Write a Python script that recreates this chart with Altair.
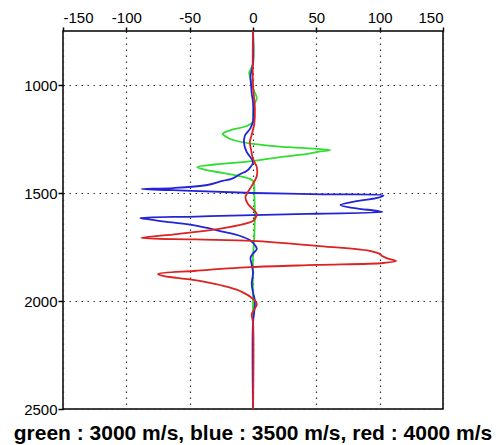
import altair as alt
import pandas as pd

# ---- data ----
x_ticks = [-150, -100, -50, 0, 50, 100, 150]
y_ticks = [1000, 1500, 2000, 2500]

series_names = ["green", "blue", "red"]
series_colors = ["#30dd30", "#2323d8", "#dd2222"]
title_text = "green : 3000 m/s, blue : 3500 m/s, red : 4000 m/s"

green_depth = [750, 900, 930, 944, 970, 1000, 1030, 1060, 1090, 1130, 1171, 1190,
               1210, 1227, 1240, 1250, 1273, 1288, 1301, 1308, 1319, 1335, 1352,
               1368, 1380, 1392, 1407, 1425, 1444, 1470, 1500, 1600, 1700, 1800,
               2000, 2500]
green_value = [0, 0, -2, -3, -2, -1, 1, 3, 1, 0, 0, -5,
               -18, -24, -21, -18, 0, 28, 61, 52, 43, 20, 0,
               -30, -44, -38, -24, -8, 0, 1, 1, 1.5, 1, 0,
               0, 0]

blue_depth = [750, 900, 930, 960, 1000, 1040, 1080, 1166, 1200, 1236, 1273, 1310,
              1343, 1360, 1380, 1398, 1412, 1435, 1444, 1463, 1477, 1481, 1490,
              1500, 1506, 1512, 1523, 1540, 1556, 1570, 1583, 1588, 1596, 1602,
              1609, 1616, 1622, 1630, 1646, 1662, 1676, 1699, 1720, 1745, 1760,
              1780, 1800, 1830, 1870, 1920, 1960, 2000, 2050, 2100, 2500]
blue_value = [0, 0, -1, -2, -1.5, -1, 0, 0, -2, -6.5, -7, -5,
              -1, 0, -2, -5, -10, -17, -24, -36, -63, -88, -48,
              0, 55, 103, 98, 80, 69, 80, 98, 102, 50, 0,
              -45, -89, -82, -73, -50, -36, -26, -10, -2, 2, 3,
              0, -2, -1, 0, -1, 0, 1.5, 1, 0, 0]

red_depth = [750, 1000, 1111, 1180, 1230, 1264, 1300, 1343, 1380, 1421, 1467, 1505,
             1520, 1551, 1575, 1597, 1615, 1630, 1650, 1667, 1690, 1708, 1715,
             1722, 1745, 1768, 1782, 1792, 1803, 1815, 1824, 1833, 1843, 1860,
             1875, 1885, 1900, 1915, 1935, 1960, 1990, 2014, 2040, 2060, 2100,
             2500]
red_value = [0, 0, 1.5, 1, -1, -2.5, -1.5, 0, 3, 3, -1, -5,
             -6, -4, 0, 3, 2, 0, -12, -28, -60, -88, -45,
             0, 50, 92, 100, 102, 106, 113, 103, 50, -2, -45,
             -75, -70, -50, -35, -20, -8, 0, 3, 1, -1, 0,
             0]

rows = []
for name, depths, values in [("green", green_depth, green_value),
                             ("blue", blue_depth, blue_value),
                             ("red", red_depth, red_value)]:
    for d, v in zip(depths, values):
        rows.append({"series": name, "depth": d, "value": v})
df = pd.DataFrame(rows)

font = "Liberation Sans"

x_enc = alt.X("value:Q",
              scale=alt.Scale(domain=[-150, 150], nice=False, zero=False),
              axis=alt.Axis(orient="top", values=x_ticks, title=None,
                            tickSize=4, labelPadding=2,
                            labelExpr="'' + datum.value"))
y_enc = alt.Y("depth:Q",
              scale=alt.Scale(domain=[750, 2500], nice=False, zero=False, reverse=True),
              axis=alt.Axis(orient="left", values=y_ticks, title=None,
                            tickSize=5, labelPadding=1,
                            labelExpr="'' + datum.value"))

base = alt.Chart(df)
layers = []
for name, color in zip(series_names, series_colors):
    layers.append(
        base.transform_filter(alt.datum.series == name)
        .mark_line(color=color, strokeWidth=1.8, interpolate="catmull-rom")
        .encode(x=x_enc, y=y_enc, order=alt.Order("depth:Q"))
    )

chart = (
    alt.layer(*layers)
    .properties(
        width=380,
        height=378,
        autosize=alt.AutoSizeParams(type="none"),
        padding={"left": 55, "top": 23, "right": 51, "bottom": 36},
        title=alt.TitleParams(title_text, orient="bottom", anchor="middle",
                              font=font, fontSize=21, fontWeight="bold",
                              color="black", offset=6),
    )
    .configure_view(stroke="black", strokeWidth=1.5)
    .configure_axis(
        labelFont=font, labelFontSize=15, labelColor="black",
        tickColor="black", tickWidth=1.5, domain=False,
        grid=True, gridColor="#333333", gridDash=[1.5, 4.5], gridWidth=1.2,
    )
)

chart.save("out.html", embed_options={"renderer": "svg", "actions": False})
